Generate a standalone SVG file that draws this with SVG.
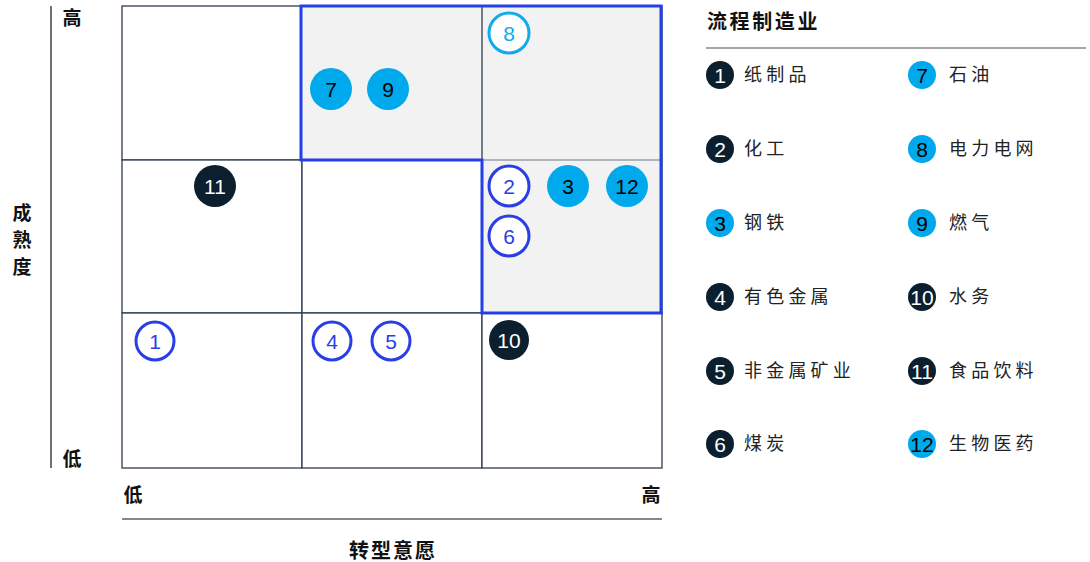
<svg xmlns="http://www.w3.org/2000/svg" width="1090" height="562" viewBox="0 0 1090 562">
<style>
.cell{fill:#ffffff;stroke:#2e3d4c;stroke-width:1.3}
.gray{fill:#f2f2f2;stroke:none}
.frame{fill:none;stroke:#2340e8;stroke-width:3}
.ax{stroke:#111;stroke-width:1.2}
.lbl{font-family:"Noto Sans CJK SC","Noto Sans",sans-serif;font-weight:bold;font-size:19px;fill:#111}
.leg{font-family:"Noto Sans CJK SC","Noto Sans",sans-serif;font-size:18px;fill:#222;letter-spacing:4.2px}
.num{font-family:"Liberation Sans",Arial,sans-serif;font-size:21px;text-anchor:middle;dominant-baseline:central}
.cy{fill:#00a8ec}
.dk{fill:#0b1f2f}
.ob{fill:#fff;stroke:#2a3ee6;stroke-width:3}
.oc{fill:#fff;stroke:#11aaea;stroke-width:3}
.tb{fill:#2a3ee6}.tc{fill:#11aaea}.tw{fill:#fff}.tk{fill:#000}
</style>
<g id="grid">
<rect class="cell" x="122" y="6" width="180" height="154"/>
<rect class="cell" x="302" y="6" width="180" height="154"/>
<rect class="cell" x="482" y="6" width="180" height="154"/>
<rect class="cell" x="122" y="160" width="180" height="153"/>
<rect class="cell" x="302" y="160" width="180" height="153"/>
<rect class="cell" x="482" y="160" width="180" height="153"/>
<rect class="cell" x="122" y="313" width="180" height="155"/>
<rect class="cell" x="302" y="313" width="180" height="155"/>
<rect class="cell" x="482" y="313" width="180" height="155"/>
<rect class="gray" x="302" y="7" width="359" height="152"/>
<rect class="gray" x="482" y="159" width="179" height="153"/>
<line x1="482" y1="6" x2="482" y2="160" stroke="#2e3d4c" stroke-width="1.3"/>
<line x1="482" y1="160" x2="662" y2="160" stroke="#6b7680" stroke-width="1.2"/>
<polygon class="frame" points="301,6 661,6 661,313 482,313 482,160 301,160"/>
</g>
<g id="axes">
<line class="ax" x1="51" y1="6" x2="51" y2="468"/>
<text class="lbl" x="72" y="25" text-anchor="middle">高</text>
<text class="lbl" x="72" y="466" text-anchor="middle">低</text>
<text class="lbl" x="22" y="220" text-anchor="middle">成</text>
<text class="lbl" x="22" y="247" text-anchor="middle">熟</text>
<text class="lbl" x="22" y="274" text-anchor="middle">度</text>
<text class="lbl" x="133" y="502" text-anchor="middle">低</text>
<text class="lbl" x="651" y="502" text-anchor="middle">高</text>
<line class="ax" x1="122" y1="519" x2="662" y2="519"/>
<text class="lbl" x="393" y="558" text-anchor="middle" style="font-size:20px;letter-spacing:2px">转型意愿</text>
</g>
<g id="node-8"><circle class="oc" cx="509" cy="33" r="20"/><text class="num tc" x="509" y="33">8</text></g>
<g id="node-7"><circle class="cy" cx="331" cy="89" r="21"/><text class="num tk" x="331" y="89">7</text></g>
<g id="node-9"><circle class="cy" cx="388" cy="89" r="21"/><text class="num tk" x="388" y="89">9</text></g>
<g id="node-11"><circle class="dk" cx="215" cy="186" r="21"/><text class="num tw" x="215" y="186">11</text></g>
<g id="node-2"><circle class="ob" cx="509" cy="186" r="20"/><text class="num tb" x="509" y="186">2</text></g>
<g id="node-3"><circle class="cy" cx="568" cy="186" r="21"/><text class="num tk" x="568" y="186">3</text></g>
<g id="node-12"><circle class="cy" cx="627" cy="186" r="21"/><text class="num tk" x="627" y="186">12</text></g>
<g id="node-6"><circle class="ob" cx="509" cy="236" r="20"/><text class="num tb" x="509" y="236">6</text></g>
<g id="node-1"><circle class="ob" cx="155" cy="341" r="19"/><text class="num tb" x="155" y="341">1</text></g>
<g id="node-4"><circle class="ob" cx="332" cy="341" r="19"/><text class="num tb" x="332" y="341">4</text></g>
<g id="node-5"><circle class="ob" cx="391" cy="341" r="19"/><text class="num tb" x="391" y="341">5</text></g>
<g id="node-10"><circle class="dk" cx="509" cy="340" r="20"/><text class="num tw" x="509" y="340">10</text></g>
<g id="legend">
<text class="lbl" x="707" y="29" style="font-size:20px;letter-spacing:2.6px">流程制造业</text>
<line x1="706" y1="48" x2="1086" y2="48" stroke="#888" stroke-width="1.5"/>
<g id="leg-1"><circle class="dk" cx="720" cy="75" r="14"/><text class="num tw" x="720" y="75">1</text><text class="leg" x="744" y="81">纸制品</text></g>
<g id="leg-2"><circle class="dk" cx="720" cy="149" r="14"/><text class="num tw" x="720" y="149">2</text><text class="leg" x="744" y="155">化工</text></g>
<g id="leg-3"><circle class="cy" cx="720" cy="223" r="14"/><text class="num tk" x="720" y="223">3</text><text class="leg" x="744" y="229">钢铁</text></g>
<g id="leg-4"><circle class="dk" cx="720" cy="297" r="14"/><text class="num tw" x="720" y="297">4</text><text class="leg" x="744" y="303">有色金属</text></g>
<g id="leg-5"><circle class="dk" cx="720" cy="371" r="14"/><text class="num tw" x="720" y="371">5</text><text class="leg" x="744" y="377">非金属矿业</text></g>
<g id="leg-6"><circle class="dk" cx="720" cy="444" r="14"/><text class="num tw" x="720" y="444">6</text><text class="leg" x="744" y="450">煤炭</text></g>
<g id="leg-7"><circle class="cy" cx="922" cy="75" r="14"/><text class="num tk" x="922" y="75">7</text><text class="leg" x="949" y="81">石油</text></g>
<g id="leg-8"><circle class="cy" cx="922" cy="149" r="14"/><text class="num tk" x="922" y="149">8</text><text class="leg" x="949" y="155">电力电网</text></g>
<g id="leg-9"><circle class="cy" cx="922" cy="223" r="14"/><text class="num tk" x="922" y="223">9</text><text class="leg" x="949" y="229">燃气</text></g>
<g id="leg-10"><circle class="dk" cx="922" cy="297" r="14"/><text class="num tw" x="922" y="297">10</text><text class="leg" x="949" y="303">水务</text></g>
<g id="leg-11"><circle class="dk" cx="922" cy="371" r="14"/><text class="num tw" x="922" y="371">11</text><text class="leg" x="949" y="377">食品饮料</text></g>
<g id="leg-12"><circle class="cy" cx="922" cy="444" r="14"/><text class="num tk" x="922" y="444">12</text><text class="leg" x="949" y="450">生物医药</text></g>
</g>
<g id="connectors"/>
</svg>
